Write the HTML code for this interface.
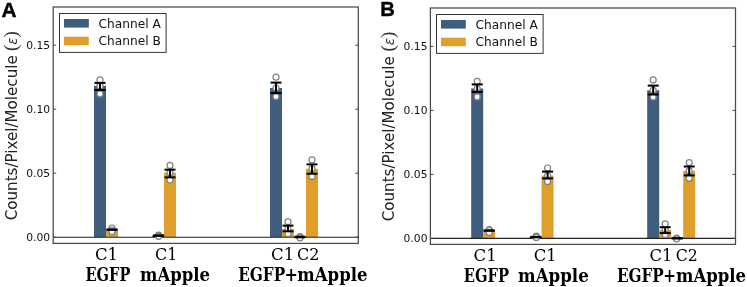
<!DOCTYPE html>
<html><head><meta charset="utf-8"><style>
html,body{margin:0;padding:0;background:#fff;}
svg{display:block;}
.tk{font-family:"DejaVu Sans",sans-serif;font-size:10.2px;fill:#111;}
.lg{font-family:"DejaVu Sans",sans-serif;font-size:12.2px;fill:#111;}
.yl{font-family:"DejaVu Sans",sans-serif;font-size:15px;fill:#222;}
.pa{font-family:"Liberation Serif",serif;font-size:19px;fill:#333;}
.ep{font-family:"DejaVu Sans",sans-serif;font-style:italic;font-size:13.5px;}
.xr{font-family:"DejaVu Serif",serif;font-stretch:condensed;font-size:17.4px;fill:#000;}
.xb{font-family:"DejaVu Serif",serif;font-stretch:condensed;font-weight:bold;font-size:18px;fill:#000;}
.pl{font-family:"Liberation Sans",sans-serif;font-weight:bold;font-size:20.6px;fill:#000;stroke:#000;stroke-width:0.4px;}
</style></head><body>
<svg width="747" height="287" viewBox="0 0 747 287">
<rect x="94.00" y="85.75" width="12" height="151.45" fill="#3f5e7e"/>
<rect x="106.00" y="229.70" width="12" height="7.50" fill="#e09f2b"/>
<rect x="152.00" y="235.60" width="12" height="1.60" fill="#3f5e7e"/>
<rect x="164.00" y="172.80" width="12" height="64.40" fill="#e09f2b"/>
<rect x="270.00" y="88.00" width="12" height="149.20" fill="#3f5e7e"/>
<rect x="282.00" y="229.00" width="12" height="8.20" fill="#e09f2b"/>
<rect x="294.00" y="236.90" width="12" height="0.30" fill="#3f5e7e"/>
<rect x="306.00" y="168.80" width="12" height="68.40" fill="#e09f2b"/>
<line x1="53.2" y1="237.20" x2="358.3" y2="237.20" stroke="#222" stroke-width="1.1"/>
<circle cx="100.00" cy="79.90" r="3.0" fill="#fff" stroke="#808080" stroke-width="1.2"/>
<circle cx="100.00" cy="86.20" r="3.0" fill="#fff" stroke="#808080" stroke-width="1.2"/>
<circle cx="100.00" cy="93.90" r="3.0" fill="#fff" stroke="#808080" stroke-width="1.2"/>
<circle cx="112.00" cy="228.00" r="3.0" fill="#fff" stroke="#808080" stroke-width="1.2"/>
<circle cx="112.00" cy="230.00" r="3.0" fill="#fff" stroke="#808080" stroke-width="1.2"/>
<circle cx="112.00" cy="231.80" r="3.0" fill="#fff" stroke="#808080" stroke-width="1.2"/>
<circle cx="158.60" cy="235.00" r="3.0" fill="#fff" stroke="#808080" stroke-width="1.2"/>
<circle cx="158.60" cy="235.60" r="3.0" fill="#fff" stroke="#808080" stroke-width="1.2"/>
<circle cx="158.60" cy="236.30" r="3.0" fill="#fff" stroke="#808080" stroke-width="1.2"/>
<circle cx="170.00" cy="165.40" r="3.0" fill="#fff" stroke="#808080" stroke-width="1.2"/>
<circle cx="170.00" cy="172.80" r="3.0" fill="#fff" stroke="#808080" stroke-width="1.2"/>
<circle cx="170.00" cy="180.00" r="3.0" fill="#fff" stroke="#808080" stroke-width="1.2"/>
<circle cx="276.00" cy="77.20" r="3.0" fill="#fff" stroke="#808080" stroke-width="1.2"/>
<circle cx="276.00" cy="88.00" r="3.0" fill="#fff" stroke="#808080" stroke-width="1.2"/>
<circle cx="276.00" cy="96.60" r="3.0" fill="#fff" stroke="#808080" stroke-width="1.2"/>
<circle cx="288.00" cy="221.70" r="3.0" fill="#fff" stroke="#808080" stroke-width="1.2"/>
<circle cx="288.00" cy="229.00" r="3.0" fill="#fff" stroke="#808080" stroke-width="1.2"/>
<circle cx="288.00" cy="233.70" r="3.0" fill="#fff" stroke="#808080" stroke-width="1.2"/>
<circle cx="300.00" cy="236.50" r="3.0" fill="#fff" stroke="#808080" stroke-width="1.2"/>
<circle cx="300.00" cy="237.30" r="3.0" fill="#fff" stroke="#808080" stroke-width="1.2"/>
<circle cx="300.00" cy="237.80" r="3.0" fill="#fff" stroke="#808080" stroke-width="1.2"/>
<circle cx="312.00" cy="159.90" r="3.0" fill="#fff" stroke="#808080" stroke-width="1.2"/>
<circle cx="312.00" cy="168.80" r="3.0" fill="#fff" stroke="#808080" stroke-width="1.2"/>
<circle cx="312.00" cy="176.40" r="3.0" fill="#fff" stroke="#808080" stroke-width="1.2"/>
<line x1="100.00" y1="82.90" x2="100.00" y2="90.00" stroke="#000" stroke-width="2"/>
<line x1="94.50" y1="82.90" x2="105.50" y2="82.90" stroke="#000" stroke-width="2"/>
<line x1="94.50" y1="90.00" x2="105.50" y2="90.00" stroke="#000" stroke-width="2"/>
<line x1="112.00" y1="229.55" x2="112.00" y2="229.75" stroke="#000" stroke-width="2"/>
<line x1="106.50" y1="229.55" x2="117.50" y2="229.55" stroke="#000" stroke-width="2"/>
<line x1="106.50" y1="229.75" x2="117.50" y2="229.75" stroke="#000" stroke-width="2"/>
<line x1="158.60" y1="235.40" x2="158.60" y2="235.80" stroke="#000" stroke-width="2"/>
<line x1="153.10" y1="235.40" x2="164.10" y2="235.40" stroke="#000" stroke-width="2"/>
<line x1="153.10" y1="235.80" x2="164.10" y2="235.80" stroke="#000" stroke-width="2"/>
<line x1="170.00" y1="169.65" x2="170.00" y2="177.35" stroke="#000" stroke-width="2"/>
<line x1="164.50" y1="169.65" x2="175.50" y2="169.65" stroke="#000" stroke-width="2"/>
<line x1="164.50" y1="177.35" x2="175.50" y2="177.35" stroke="#000" stroke-width="2"/>
<line x1="276.00" y1="82.60" x2="276.00" y2="93.10" stroke="#000" stroke-width="2"/>
<line x1="270.50" y1="82.60" x2="281.50" y2="82.60" stroke="#000" stroke-width="2"/>
<line x1="270.50" y1="93.10" x2="281.50" y2="93.10" stroke="#000" stroke-width="2"/>
<line x1="288.00" y1="225.60" x2="288.00" y2="231.30" stroke="#000" stroke-width="2"/>
<line x1="282.50" y1="225.60" x2="293.50" y2="225.60" stroke="#000" stroke-width="2"/>
<line x1="282.50" y1="231.30" x2="293.50" y2="231.30" stroke="#000" stroke-width="2"/>
<line x1="300.00" y1="236.70" x2="300.00" y2="237.30" stroke="#000" stroke-width="2"/>
<line x1="294.50" y1="236.70" x2="305.50" y2="236.70" stroke="#000" stroke-width="2"/>
<line x1="294.50" y1="237.30" x2="305.50" y2="237.30" stroke="#000" stroke-width="2"/>
<line x1="312.00" y1="164.40" x2="312.00" y2="173.70" stroke="#000" stroke-width="2"/>
<line x1="306.50" y1="164.40" x2="317.50" y2="164.40" stroke="#000" stroke-width="2"/>
<line x1="306.50" y1="173.70" x2="317.50" y2="173.70" stroke="#000" stroke-width="2"/>
<rect x="53.2" y="7.0" width="305.1" height="236.4" fill="none" stroke="#4a4a4a" stroke-width="1.25"/>
<line x1="53.2" y1="237.20" x2="56.2" y2="237.20" stroke="#444" stroke-width="1"/>
<line x1="355.3" y1="237.20" x2="358.3" y2="237.20" stroke="#444" stroke-width="1"/>
<text x="50.20" y="240.50" class="tk" text-anchor="end" textLength="23.9" lengthAdjust="spacingAndGlyphs">0.00</text>
<line x1="53.2" y1="173.20" x2="56.2" y2="173.20" stroke="#444" stroke-width="1"/>
<line x1="355.3" y1="173.20" x2="358.3" y2="173.20" stroke="#444" stroke-width="1"/>
<text x="50.20" y="176.50" class="tk" text-anchor="end" textLength="23.9" lengthAdjust="spacingAndGlyphs">0.05</text>
<line x1="53.2" y1="109.20" x2="56.2" y2="109.20" stroke="#444" stroke-width="1"/>
<line x1="355.3" y1="109.20" x2="358.3" y2="109.20" stroke="#444" stroke-width="1"/>
<text x="50.20" y="112.50" class="tk" text-anchor="end" textLength="23.9" lengthAdjust="spacingAndGlyphs">0.10</text>
<line x1="53.2" y1="45.20" x2="56.2" y2="45.20" stroke="#444" stroke-width="1"/>
<line x1="355.3" y1="45.20" x2="358.3" y2="45.20" stroke="#444" stroke-width="1"/>
<text x="50.20" y="48.50" class="tk" text-anchor="end" textLength="23.9" lengthAdjust="spacingAndGlyphs">0.15</text>
<rect x="59.50" y="13.50" width="106.6" height="38.9" fill="#fff" stroke="#333" stroke-width="1"/>
<rect x="64.00" y="19.00" width="24.8" height="8.6" fill="#3f5e7e"/>
<rect x="64.00" y="36.70" width="24.8" height="8.5" fill="#e09f2b"/>
<text x="98.50" y="27.50" class="lg">Channel A</text>
<text x="98.50" y="45.20" class="lg">Channel B</text>
<text transform="translate(17.00,220.30) rotate(-90)" class="yl"><tspan textLength="165" lengthAdjust="spacingAndGlyphs">Counts/Pixel/Molecule</tspan></text>
<text transform="translate(17.20,51.10) rotate(-90)" class="pa">(<tspan class="ep">ε</tspan>)</text>
<text x="94.97" y="260.00" class="xr" textLength="23.07" lengthAdjust="spacingAndGlyphs">C1</text>
<text x="85.52" y="280.70" class="xb" textLength="44.85" lengthAdjust="spacingAndGlyphs">EGFP</text>
<text x="155.00" y="260.00" class="xr" textLength="22.26" lengthAdjust="spacingAndGlyphs">C1</text>
<text x="140.13" y="280.70" class="xb" textLength="69.90" lengthAdjust="spacingAndGlyphs">mApple</text>
<text x="271.06" y="259.80" class="xr" textLength="23.19" lengthAdjust="spacingAndGlyphs">C1</text>
<text x="297.09" y="259.80" class="xr" textLength="22.38" lengthAdjust="spacingAndGlyphs">C2</text>
<text x="238.19" y="280.70" class="xb" textLength="47.00" lengthAdjust="spacingAndGlyphs">EGFP</text>
<text x="284.42" y="280.70" class="xb" textLength="13.37" lengthAdjust="spacingAndGlyphs">+</text>
<text x="297.33" y="280.70" class="xb" textLength="70.11" lengthAdjust="spacingAndGlyphs">mApple</text>
<rect x="471.20" y="88.50" width="12" height="149.90" fill="#3f5e7e"/>
<rect x="483.20" y="230.10" width="12" height="8.30" fill="#e09f2b"/>
<rect x="529.60" y="237.00" width="12" height="1.40" fill="#3f5e7e"/>
<rect x="541.60" y="175.60" width="12" height="62.80" fill="#e09f2b"/>
<rect x="647.20" y="90.30" width="12" height="148.10" fill="#3f5e7e"/>
<rect x="659.20" y="229.80" width="12" height="8.60" fill="#e09f2b"/>
<rect x="671.20" y="238.00" width="12" height="0.40" fill="#3f5e7e"/>
<rect x="683.20" y="170.90" width="12" height="67.50" fill="#e09f2b"/>
<line x1="430.4" y1="238.40" x2="735.5" y2="238.40" stroke="#222" stroke-width="1.1"/>
<circle cx="477.20" cy="81.40" r="3.0" fill="#fff" stroke="#808080" stroke-width="1.2"/>
<circle cx="477.20" cy="88.50" r="3.0" fill="#fff" stroke="#808080" stroke-width="1.2"/>
<circle cx="477.20" cy="96.90" r="3.0" fill="#fff" stroke="#808080" stroke-width="1.2"/>
<circle cx="489.20" cy="229.60" r="3.0" fill="#fff" stroke="#808080" stroke-width="1.2"/>
<circle cx="489.20" cy="230.50" r="3.0" fill="#fff" stroke="#808080" stroke-width="1.2"/>
<circle cx="489.20" cy="232.50" r="3.0" fill="#fff" stroke="#808080" stroke-width="1.2"/>
<circle cx="536.30" cy="236.20" r="3.0" fill="#fff" stroke="#808080" stroke-width="1.2"/>
<circle cx="536.30" cy="236.80" r="3.0" fill="#fff" stroke="#808080" stroke-width="1.2"/>
<circle cx="536.30" cy="237.40" r="3.0" fill="#fff" stroke="#808080" stroke-width="1.2"/>
<circle cx="547.60" cy="168.00" r="3.0" fill="#fff" stroke="#808080" stroke-width="1.2"/>
<circle cx="547.60" cy="175.50" r="3.0" fill="#fff" stroke="#808080" stroke-width="1.2"/>
<circle cx="547.60" cy="181.60" r="3.0" fill="#fff" stroke="#808080" stroke-width="1.2"/>
<circle cx="653.20" cy="79.90" r="3.0" fill="#fff" stroke="#808080" stroke-width="1.2"/>
<circle cx="653.20" cy="90.30" r="3.0" fill="#fff" stroke="#808080" stroke-width="1.2"/>
<circle cx="653.20" cy="97.10" r="3.0" fill="#fff" stroke="#808080" stroke-width="1.2"/>
<circle cx="665.20" cy="223.90" r="3.0" fill="#fff" stroke="#808080" stroke-width="1.2"/>
<circle cx="665.20" cy="229.80" r="3.0" fill="#fff" stroke="#808080" stroke-width="1.2"/>
<circle cx="665.20" cy="234.50" r="3.0" fill="#fff" stroke="#808080" stroke-width="1.2"/>
<circle cx="676.60" cy="238.00" r="3.0" fill="#fff" stroke="#808080" stroke-width="1.2"/>
<circle cx="676.60" cy="238.60" r="3.0" fill="#fff" stroke="#808080" stroke-width="1.2"/>
<circle cx="676.60" cy="239.00" r="3.0" fill="#fff" stroke="#808080" stroke-width="1.2"/>
<circle cx="689.20" cy="162.60" r="3.0" fill="#fff" stroke="#808080" stroke-width="1.2"/>
<circle cx="689.20" cy="170.90" r="3.0" fill="#fff" stroke="#808080" stroke-width="1.2"/>
<circle cx="689.20" cy="178.30" r="3.0" fill="#fff" stroke="#808080" stroke-width="1.2"/>
<line x1="477.20" y1="84.40" x2="477.20" y2="91.90" stroke="#000" stroke-width="2"/>
<line x1="471.70" y1="84.40" x2="482.70" y2="84.40" stroke="#000" stroke-width="2"/>
<line x1="471.70" y1="91.90" x2="482.70" y2="91.90" stroke="#000" stroke-width="2"/>
<line x1="489.20" y1="230.50" x2="489.20" y2="230.70" stroke="#000" stroke-width="2"/>
<line x1="483.70" y1="230.50" x2="494.70" y2="230.50" stroke="#000" stroke-width="2"/>
<line x1="483.70" y1="230.70" x2="494.70" y2="230.70" stroke="#000" stroke-width="2"/>
<line x1="535.90" y1="236.85" x2="535.90" y2="237.25" stroke="#000" stroke-width="2"/>
<line x1="530.40" y1="236.85" x2="541.40" y2="236.85" stroke="#000" stroke-width="2"/>
<line x1="530.40" y1="237.25" x2="541.40" y2="237.25" stroke="#000" stroke-width="2"/>
<line x1="547.60" y1="171.60" x2="547.60" y2="178.40" stroke="#000" stroke-width="2"/>
<line x1="542.10" y1="171.60" x2="553.10" y2="171.60" stroke="#000" stroke-width="2"/>
<line x1="542.10" y1="178.40" x2="553.10" y2="178.40" stroke="#000" stroke-width="2"/>
<line x1="653.20" y1="85.60" x2="653.20" y2="94.50" stroke="#000" stroke-width="2"/>
<line x1="647.70" y1="85.60" x2="658.70" y2="85.60" stroke="#000" stroke-width="2"/>
<line x1="647.70" y1="94.50" x2="658.70" y2="94.50" stroke="#000" stroke-width="2"/>
<line x1="665.20" y1="227.20" x2="665.20" y2="233.10" stroke="#000" stroke-width="2"/>
<line x1="659.70" y1="227.20" x2="670.70" y2="227.20" stroke="#000" stroke-width="2"/>
<line x1="659.70" y1="233.10" x2="670.70" y2="233.10" stroke="#000" stroke-width="2"/>
<line x1="677.20" y1="238.20" x2="677.20" y2="238.40" stroke="#000" stroke-width="2"/>
<line x1="671.70" y1="238.20" x2="682.70" y2="238.20" stroke="#000" stroke-width="2"/>
<line x1="671.70" y1="238.40" x2="682.70" y2="238.40" stroke="#000" stroke-width="2"/>
<line x1="689.20" y1="166.50" x2="689.20" y2="175.40" stroke="#000" stroke-width="2"/>
<line x1="683.70" y1="166.50" x2="694.70" y2="166.50" stroke="#000" stroke-width="2"/>
<line x1="683.70" y1="175.40" x2="694.70" y2="175.40" stroke="#000" stroke-width="2"/>
<rect x="430.4" y="8.0" width="305.1" height="236.4" fill="none" stroke="#4a4a4a" stroke-width="1.25"/>
<line x1="430.4" y1="238.40" x2="433.4" y2="238.40" stroke="#444" stroke-width="1"/>
<line x1="732.5" y1="238.40" x2="735.5" y2="238.40" stroke="#444" stroke-width="1"/>
<text x="427.50" y="241.70" class="tk" text-anchor="end" textLength="23.9" lengthAdjust="spacingAndGlyphs">0.00</text>
<line x1="430.4" y1="174.40" x2="433.4" y2="174.40" stroke="#444" stroke-width="1"/>
<line x1="732.5" y1="174.40" x2="735.5" y2="174.40" stroke="#444" stroke-width="1"/>
<text x="427.50" y="177.70" class="tk" text-anchor="end" textLength="23.9" lengthAdjust="spacingAndGlyphs">0.05</text>
<line x1="430.4" y1="110.40" x2="433.4" y2="110.40" stroke="#444" stroke-width="1"/>
<line x1="732.5" y1="110.40" x2="735.5" y2="110.40" stroke="#444" stroke-width="1"/>
<text x="427.50" y="113.70" class="tk" text-anchor="end" textLength="23.9" lengthAdjust="spacingAndGlyphs">0.10</text>
<line x1="430.4" y1="46.40" x2="433.4" y2="46.40" stroke="#444" stroke-width="1"/>
<line x1="732.5" y1="46.40" x2="735.5" y2="46.40" stroke="#444" stroke-width="1"/>
<text x="427.50" y="49.70" class="tk" text-anchor="end" textLength="23.9" lengthAdjust="spacingAndGlyphs">0.15</text>
<rect x="436.50" y="14.50" width="106.6" height="38.9" fill="#fff" stroke="#333" stroke-width="1"/>
<rect x="441.00" y="20.00" width="24.8" height="8.6" fill="#3f5e7e"/>
<rect x="441.00" y="37.70" width="24.8" height="8.5" fill="#e09f2b"/>
<text x="475.50" y="28.50" class="lg">Channel A</text>
<text x="475.50" y="46.20" class="lg">Channel B</text>
<text transform="translate(394.00,221.30) rotate(-90)" class="yl"><tspan textLength="165" lengthAdjust="spacingAndGlyphs">Counts/Pixel/Molecule</tspan></text>
<text transform="translate(394.20,51.60) rotate(-90)" class="pa">(<tspan class="ep">ε</tspan>)</text>
<text x="473.56" y="260.70" class="xr" textLength="23.19" lengthAdjust="spacingAndGlyphs">C1</text>
<text x="463.71" y="281.50" class="xb" textLength="45.25" lengthAdjust="spacingAndGlyphs">EGFP</text>
<text x="533.67" y="260.70" class="xr" textLength="22.95" lengthAdjust="spacingAndGlyphs">C1</text>
<text x="518.13" y="281.50" class="xb" textLength="70.62" lengthAdjust="spacingAndGlyphs">mApple</text>
<text x="649.57" y="260.60" class="xr" textLength="22.95" lengthAdjust="spacingAndGlyphs">C1</text>
<text x="675.81" y="260.60" class="xr" textLength="22.04" lengthAdjust="spacingAndGlyphs">C2</text>
<text x="616.89" y="281.50" class="xb" textLength="46.89" lengthAdjust="spacingAndGlyphs">EGFP</text>
<text x="663.20" y="281.50" class="xb" textLength="12.70" lengthAdjust="spacingAndGlyphs">+</text>
<text x="676.03" y="281.50" class="xb" textLength="70.01" lengthAdjust="spacingAndGlyphs">mApple</text>
<text x="1.4" y="16.6" class="pl" textLength="15" lengthAdjust="spacingAndGlyphs">A</text>
<text x="380.3" y="16.2" class="pl" textLength="14.6" lengthAdjust="spacingAndGlyphs">B</text>
</svg>
</body></html>
